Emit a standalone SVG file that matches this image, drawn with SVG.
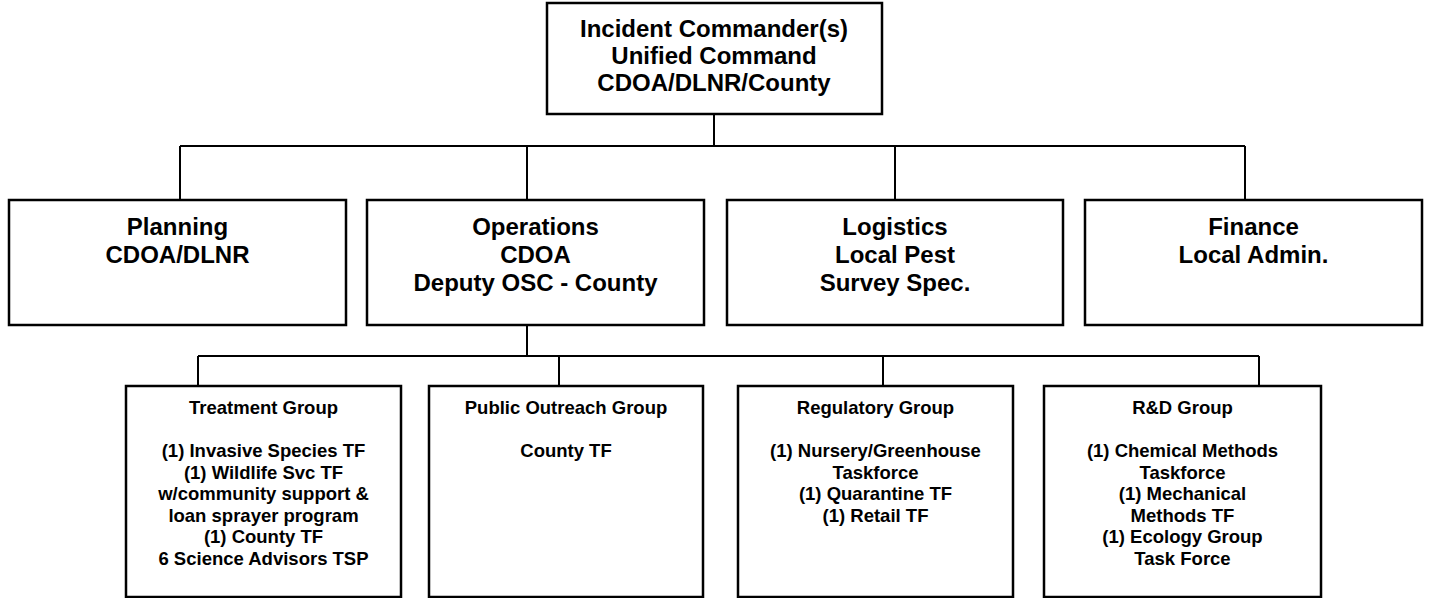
<svg xmlns="http://www.w3.org/2000/svg" width="1429" height="598" viewBox="0 0 1429 598">
<style>
.box{fill:#fff;stroke:#000;stroke-width:2.5}
.ln{stroke:#000;stroke-width:2;fill:none}
text{font-family:"Liberation Sans",Arial,sans-serif;font-weight:bold;fill:#000;text-anchor:middle}
.t1{font-size:24px}
.t2{font-size:24px}
.t3{font-size:18.5px}
</style>
<g id="connectors">
<path class="ln" d="M714 114V146M180 146H1245M180 146V200M527 146V200M895 146V200M1245 146V200"/>
<path class="ln" d="M527 325V356M198 356H1259M198 356V386M559 356V386M883 356V386M1259 356V386"/>
</g>
<g id="ic">
<rect class="box" x="547" y="3" width="335" height="111"/>
<text class="t1" x="714" y="37">Incident Commander(s)</text>
<text class="t1" x="714" y="64">Unified Command</text>
<text class="t1" x="714" y="91">CDOA/DLNR/County</text>
</g>
<g id="planning">
<rect class="box" x="9" y="200" width="337" height="125"/>
<text class="t2" x="177.5" y="235">Planning</text>
<text class="t2" x="177.5" y="263">CDOA/DLNR</text>
</g>
<g id="operations">
<rect class="box" x="367" y="200" width="337" height="125"/>
<text class="t2" x="535.5" y="235">Operations</text>
<text class="t2" x="535.5" y="263">CDOA</text>
<text class="t2" x="535.5" y="291">Deputy OSC - County</text>
</g>
<g id="logistics">
<rect class="box" x="727" y="200" width="336" height="125"/>
<text class="t2" x="895" y="235">Logistics</text>
<text class="t2" x="895" y="263">Local Pest</text>
<text class="t2" x="895" y="291">Survey Spec.</text>
</g>
<g id="finance">
<rect class="box" x="1085" y="200" width="337" height="125"/>
<text class="t2" x="1253.5" y="235">Finance</text>
<text class="t2" x="1253.5" y="263">Local Admin.</text>
</g>
<g id="treatment">
<rect class="box" x="126" y="386" width="275" height="211"/>
<text class="t3" x="263.5" y="414">Treatment Group</text>
<text class="t3" x="263.5" y="457">(1) Invasive Species TF</text>
<text class="t3" x="263.5" y="478.5">(1) Wildlife Svc TF</text>
<text class="t3" x="263.5" y="500">w/community support &amp;</text>
<text class="t3" x="263.5" y="521.5">loan sprayer program</text>
<text class="t3" x="263.5" y="543">(1) County TF</text>
<text class="t3" x="263.5" y="564.5">6 Science Advisors TSP</text>
</g>
<g id="outreach">
<rect class="box" x="429" y="386" width="274" height="211"/>
<text class="t3" x="566" y="414">Public Outreach Group</text>
<text class="t3" x="566" y="457">County TF</text>
</g>
<g id="regulatory">
<rect class="box" x="738" y="386" width="275" height="211"/>
<text class="t3" x="875.5" y="414">Regulatory Group</text>
<text class="t3" x="875.5" y="457">(1) Nursery/Greenhouse</text>
<text class="t3" x="875.5" y="478.5">Taskforce</text>
<text class="t3" x="875.5" y="500">(1) Quarantine TF</text>
<text class="t3" x="875.5" y="521.5">(1) Retail TF</text>
</g>
<g id="rnd">
<rect class="box" x="1044" y="386" width="277" height="211"/>
<text class="t3" x="1182.5" y="414">R&amp;D Group</text>
<text class="t3" x="1182.5" y="457">(1) Chemical Methods</text>
<text class="t3" x="1182.5" y="478.5">Taskforce</text>
<text class="t3" x="1182.5" y="500">(1) Mechanical</text>
<text class="t3" x="1182.5" y="521.5">Methods TF</text>
<text class="t3" x="1182.5" y="543">(1) Ecology Group</text>
<text class="t3" x="1182.5" y="564.5">Task Force</text>
</g>
</svg>
